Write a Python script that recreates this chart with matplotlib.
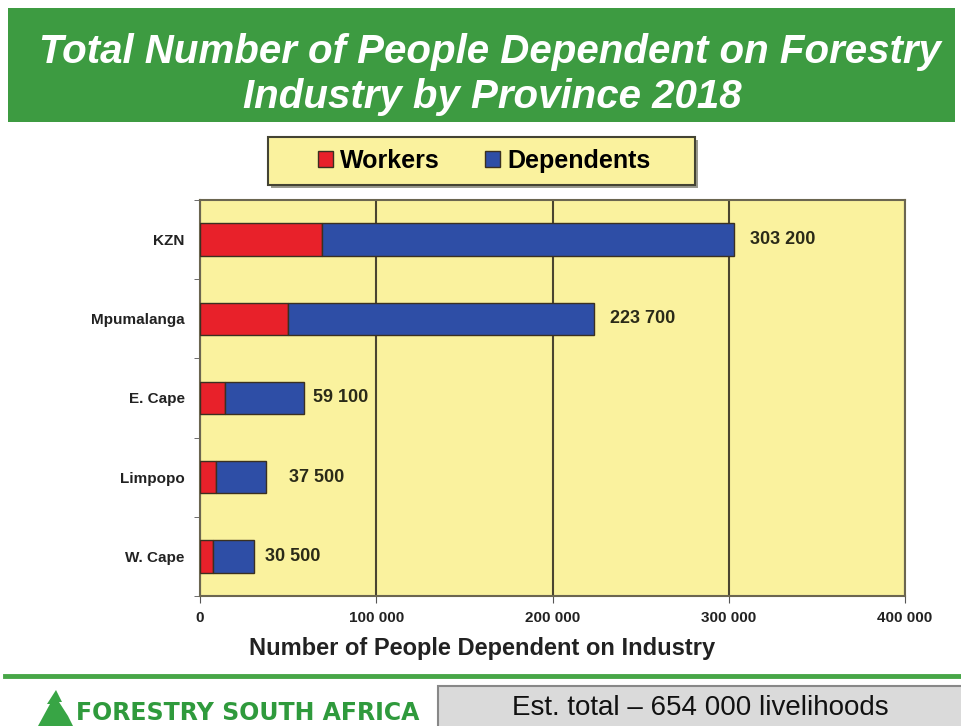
import matplotlib.pyplot as plt
import matplotlib.patches as mpatches
from matplotlib.ticker import FuncFormatter
import numpy as np

provinces = ['KZN', 'Mpumalanga', 'E. Cape', 'Limpopo', 'W. Cape']
totals = [303200, 223700, 59100, 37500, 30500]
workers = [69000, 50000, 14000, 9000, 7500]
dependents = [t - w for t, w in zip(totals, workers)]
xticks = [0, 100000, 200000, 300000, 400000]

# gap between bar end and its value label, in pixels
label_gap = [16, 16, 9, 23, 11]

W, H = 961, 726
fig = plt.figure(figsize=(W / 100, H / 100), dpi=100)
fig.patch.set_facecolor('white')

def fx(px):
    return px / W

def fy(py):
    return 1 - py / H

def frect(x0, y0, x1, y1, **kw):
    # rectangle given in pixel corners (top-left origin)
    r = mpatches.Rectangle((fx(x0), fy(y1)), fx(x1 - x0), (y1 - y0) / H,
                           transform=fig.transFigure, **kw)
    fig.patches.append(r)
    return r

bold = {'family': ['Liberation Sans', 'DejaVu Sans'], 'weight': 'bold'}

# green title banner
frect(8, 8, 955, 122, facecolor='#3d9b41', edgecolor='none')
fig.text(fx(490), fy(52), 'Total Number of People Dependent on Forestry',
         ha='center', va='center', color='white', fontsize=29,
         family='Liberation Sans', weight='bold', style='italic')
fig.text(fx(492), fy(97), 'Industry by Province 2018',
         ha='center', va='center', color='white', fontsize=29,
         family='Liberation Sans', weight='bold', style='italic')

ax = fig.add_axes([fx(200), fy(596), (905 - 200) / W, (596 - 200) / H])
ax.set_facecolor('#faf29e')
y = np.arange(len(provinces))
b1 = ax.barh(y, workers, height=0.41, color='#e8212a', edgecolor='#3a3020',
             linewidth=1, label='Workers', zorder=3)
b2 = ax.barh(y, dependents, left=workers, height=0.41, color='#2e4ea6',
             edgecolor='#3a3020', linewidth=1, label='Dependents', zorder=3)

for yi, t, g in zip(y, totals, label_gap):
    ax.annotate(f'{t:,}'.replace(',', ' '), (t, yi), xytext=(g * 0.72, 0),
                textcoords='offset points', ha='left', va='center',
                fontsize=13, color='#2a2a18', **bold)

ax.set_xlim(0, 400000)
ax.set_ylim(len(provinces) - 0.5, -0.5)
ax.set_xticks(xticks)
ax.xaxis.set_major_formatter(FuncFormatter(lambda v, p: f'{int(v):,}'.replace(',', ' ')))
ax.grid(axis='x', color='#4a4530', linewidth=1.5, zorder=1)
ax.set_yticks(y)
ax.set_yticklabels(provinces)
ax.set_yticks(np.arange(-0.5, len(provinces)), minor=True)
ax.tick_params(axis='y', which='major', length=0, pad=11)
ax.tick_params(axis='y', which='minor', length=4, color='#555555')
ax.tick_params(axis='x', length=5, color='#555555', pad=6)
for lab in ax.get_yticklabels():
    lab.set_fontproperties({'family': 'Liberation Sans', 'weight': 'bold', 'size': 11})
    lab.set_color('#222222')
for lab in ax.get_xticklabels():
    lab.set_fontproperties({'family': 'Liberation Sans', 'weight': 'bold', 'size': 11})
    lab.set_color('#222222')
for s in ax.spines.values():
    s.set_color('#6b6650')
    s.set_linewidth(1.5)
fig.text(fx(482), fy(648), 'Number of People Dependent on Industry', ha='center',
         va='center', fontsize=17, color='#222222', **bold)

# legend box with drop shadow
frect(271, 140, 698, 188, facecolor='#9a9a90', edgecolor='none')
frect(268, 137, 695, 185, facecolor='#faf29e', edgecolor='#444433', linewidth=1.5)
leg = fig.legend(handles=[b1, b2], loc='center', bbox_to_anchor=(fx(484), fy(161)),
                 ncol=2, frameon=False,
                 prop={'family': 'Liberation Sans', 'weight': 'bold', 'size': 18},
                 handlelength=0.6, handleheight=0.6, handletextpad=0.3,
                 columnspacing=1.8, borderpad=0.2)

# divider line
fig.add_artist(plt.Line2D([fx(5), 1], [fy(676), fy(676)], transform=fig.transFigure,
                          color='#47a647', linewidth=3.5))

# footer logo
tree = [(38, 726), (50, 704), (47, 704), (56, 690), (62, 702), (59, 702),
        (68, 716), (73, 726)]
fig.patches.append(mpatches.Polygon([(fx(a), fy(b)) for a, b in tree],
                                    transform=fig.transFigure,
                                    facecolor='#38a545', edgecolor='none'))
fig.text(fx(76), fy(713), 'FORESTRY SOUTH AFRICA', ha='left', va='center',
         fontsize=17, color='#2f9a3c', family='DejaVu Sans', weight='bold')

# footer total box
frect(438, 686, 970, 740, facecolor='#dadada', edgecolor='#888888', linewidth=1.5)
fig.text(fx(700), fy(708), 'Est. total \u2013 654 000 livelihoods', ha='center',
         va='center', fontsize=20, color='#111111', family='Liberation Sans')

fig.savefig('out.png', dpi=100)
